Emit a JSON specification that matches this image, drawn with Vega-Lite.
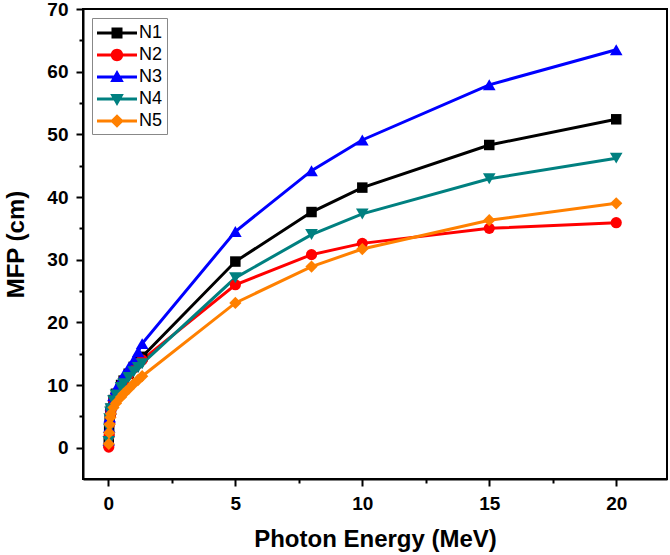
{
  "$schema": "https://vega.github.io/schema/vega-lite/v6.json",
  "width": 584,
  "height": 470,
  "autosize": {"type": "none"},
  "padding": {"left": 83, "top": 9, "right": 3, "bottom": 76},
  "background": "white",
  "config": {
    "font": "Liberation Sans",
    "view": {"stroke": "black", "strokeWidth": 2}
  },
  "data": {
    "values": [
      {"s": "N1", "e": 0.015, "m": 0.8}, {"s": "N1", "e": 0.03, "m": 2.8}, {"s": "N1", "e": 0.05, "m": 4.4}, {"s": "N1", "e": 0.08, "m": 5.6}, {"s": "N1", "e": 0.1, "m": 6.2}, {"s": "N1", "e": 0.2, "m": 7.6}, {"s": "N1", "e": 0.3, "m": 8.6}, {"s": "N1", "e": 0.5, "m": 10.0}, {"s": "N1", "e": 0.6, "m": 10.7}, {"s": "N1", "e": 0.8, "m": 11.8}, {"s": "N1", "e": 1, "m": 12.9}, {"s": "N1", "e": 1.17, "m": 13.7}, {"s": "N1", "e": 1.33, "m": 14.5}, {"s": "N1", "e": 5, "m": 29.7}, {"s": "N1", "e": 8, "m": 37.6}, {"s": "N1", "e": 10, "m": 41.5}, {"s": "N1", "e": 15, "m": 48.3}, {"s": "N1", "e": 20, "m": 52.4},
      {"s": "N2", "e": 0.015, "m": 0.1}, {"s": "N2", "e": 0.03, "m": 1.9}, {"s": "N2", "e": 0.05, "m": 3.8}, {"s": "N2", "e": 0.08, "m": 5.3}, {"s": "N2", "e": 0.1, "m": 6.0}, {"s": "N2", "e": 0.2, "m": 7.6}, {"s": "N2", "e": 0.3, "m": 8.6}, {"s": "N2", "e": 0.5, "m": 10.0}, {"s": "N2", "e": 0.6, "m": 10.7}, {"s": "N2", "e": 0.8, "m": 11.7}, {"s": "N2", "e": 1, "m": 12.7}, {"s": "N2", "e": 1.17, "m": 13.4}, {"s": "N2", "e": 1.33, "m": 14.0}, {"s": "N2", "e": 5, "m": 26.0}, {"s": "N2", "e": 8, "m": 30.8}, {"s": "N2", "e": 10, "m": 32.6}, {"s": "N2", "e": 15, "m": 35.0}, {"s": "N2", "e": 20, "m": 35.9},
      {"s": "N3", "e": 0.015, "m": 1.2}, {"s": "N3", "e": 0.03, "m": 3.2}, {"s": "N3", "e": 0.05, "m": 4.9}, {"s": "N3", "e": 0.08, "m": 6.1}, {"s": "N3", "e": 0.1, "m": 6.8}, {"s": "N3", "e": 0.2, "m": 8.3}, {"s": "N3", "e": 0.3, "m": 9.4}, {"s": "N3", "e": 0.5, "m": 10.8}, {"s": "N3", "e": 0.6, "m": 11.6}, {"s": "N3", "e": 0.8, "m": 12.8}, {"s": "N3", "e": 1, "m": 14.0}, {"s": "N3", "e": 1.17, "m": 15.3}, {"s": "N3", "e": 1.33, "m": 16.6}, {"s": "N3", "e": 5, "m": 34.5}, {"s": "N3", "e": 8, "m": 44.2}, {"s": "N3", "e": 10, "m": 49.1}, {"s": "N3", "e": 15, "m": 57.9}, {"s": "N3", "e": 20, "m": 63.5},
      {"s": "N4", "e": 0.015, "m": 1.0}, {"s": "N4", "e": 0.03, "m": 3.0}, {"s": "N4", "e": 0.05, "m": 4.6}, {"s": "N4", "e": 0.08, "m": 5.7}, {"s": "N4", "e": 0.1, "m": 6.2}, {"s": "N4", "e": 0.2, "m": 7.5}, {"s": "N4", "e": 0.3, "m": 8.4}, {"s": "N4", "e": 0.5, "m": 9.6}, {"s": "N4", "e": 0.6, "m": 10.2}, {"s": "N4", "e": 0.8, "m": 11.2}, {"s": "N4", "e": 1, "m": 12.1}, {"s": "N4", "e": 1.17, "m": 12.8}, {"s": "N4", "e": 1.33, "m": 13.4}, {"s": "N4", "e": 5, "m": 27.1}, {"s": "N4", "e": 8, "m": 34.0}, {"s": "N4", "e": 10, "m": 37.3}, {"s": "N4", "e": 15, "m": 42.9}, {"s": "N4", "e": 20, "m": 46.2},
      {"s": "N5", "e": 0.015, "m": 0.6}, {"s": "N5", "e": 0.03, "m": 2.4}, {"s": "N5", "e": 0.05, "m": 3.7}, {"s": "N5", "e": 0.08, "m": 4.8}, {"s": "N5", "e": 0.1, "m": 5.4}, {"s": "N5", "e": 0.2, "m": 6.4}, {"s": "N5", "e": 0.3, "m": 7.1}, {"s": "N5", "e": 0.5, "m": 8.1}, {"s": "N5", "e": 0.6, "m": 8.6}, {"s": "N5", "e": 0.8, "m": 9.4}, {"s": "N5", "e": 1, "m": 10.2}, {"s": "N5", "e": 1.17, "m": 10.8}, {"s": "N5", "e": 1.33, "m": 11.4}, {"s": "N5", "e": 5, "m": 23.1}, {"s": "N5", "e": 8, "m": 28.9}, {"s": "N5", "e": 10, "m": 31.7}, {"s": "N5", "e": 15, "m": 36.3}, {"s": "N5", "e": 20, "m": 39.0}
    ]
  },
  "encoding": {
    "x": {
      "field": "e", "type": "quantitative",
      "scale": {"domain": [-1, 22], "nice": false, "zero": false},
      "axis": {
        "title": "Photon Energy (MeV)",
        "values": [0, 2.5, 5, 7.5, 10, 12.5, 15, 17.5, 20],
        "labelExpr": "datum.value % 5 === 0 ? datum.label : ''",
        "grid": false,
        "domainColor": "black", "domainWidth": 2,
        "tickColor": "black", "tickWidth": 2,
        "tickSize": {"condition": {"test": "datum.value % 5 === 0", "value": 7}, "value": 4},
        "labelFontSize": 19, "labelFontWeight": "bold", "labelColor": "black", "labelPadding": 8,
        "titleFontSize": 24, "titleFontWeight": "bold", "titleColor": "black", "titlePadding": 14
      }
    },
    "y": {
      "field": "m", "type": "quantitative",
      "scale": {"domain": [-5, 70], "nice": false, "zero": false},
      "axis": {
        "title": "MFP (cm)",
        "values": [0, 5, 10, 15, 20, 25, 30, 35, 40, 45, 50, 55, 60, 65, 70],
        "labelExpr": "datum.value % 10 === 0 ? datum.label : ''",
        "grid": false,
        "domainColor": "black", "domainWidth": 2,
        "tickColor": "black", "tickWidth": 2,
        "tickSize": {"condition": {"test": "datum.value % 10 === 0", "value": 7}, "value": 4},
        "labelFontSize": 19, "labelFontWeight": "bold", "labelColor": "black", "labelPadding": 8,
        "titleFontSize": 24, "titleFontWeight": "bold", "titleColor": "black", "titlePadding": 18
      }
    },
    "color": {
      "field": "s", "type": "nominal",
      "scale": {"domain": ["N1", "N2", "N3", "N4", "N5"], "range": ["#000000", "#FF0000", "#0000FF", "#008080", "#FF8000"]},
      "legend": {
        "title": null, "orient": "top-left", "offset": 9,
        "strokeColor": "#888888", "padding": 4,
        "labelFontSize": 18, "labelColor": "black", "labelOffset": 11,
        "symbolSize": 400, "symbolOffset": 10, "rowPadding": 2
      }
    }
  },
  "layer": [
    {
      "mark": {"type": "line", "strokeWidth": 3},
      "encoding": {
        "color": null,
        "stroke": {"field": "s", "type": "nominal", "legend": null,
          "scale": {"range": ["#000000", "#FF0000", "#0000FF", "#008080", "#FF8000"]}},
        "order": {"field": "e", "type": "quantitative"}
      }
    },
    {
      "transform": [{"filter": "datum.s === 'N1'"}],
      "mark": {"type": "point", "filled": true, "size": 110, "opacity": 1, "shape": "square"}
    },
    {
      "transform": [{"filter": "datum.s === 'N2'"}],
      "mark": {"type": "point", "filled": true, "size": 125, "opacity": 1, "shape": "circle"}
    },
    {
      "transform": [{"filter": "datum.s === 'N3'"}],
      "mark": {"type": "point", "filled": true, "size": 160, "opacity": 1, "shape": "triangle-up"}
    },
    {
      "transform": [{"filter": "datum.s === 'N4'"}],
      "mark": {"type": "point", "filled": true, "size": 160, "opacity": 1, "shape": "triangle-down"}
    },
    {
      "transform": [{"filter": "datum.s === 'N5'"}],
      "mark": {"type": "point", "filled": true, "size": 150, "opacity": 1, "shape": "diamond"}
    },
    {
      "transform": [{"filter": "datum.e > 1000"}],
      "mark": {"type": "point", "filled": true, "opacity": 1},
      "encoding": {
        "shape": {
          "field": "s", "type": "nominal",
          "legend": {"title": null, "orient": "top-left", "offset": 9,
            "strokeColor": "#888888", "padding": 4,
            "labelFontSize": 18, "labelColor": "black", "labelOffset": 11,
            "symbolSize": 400, "symbolOffset": 10, "rowPadding": 2},
          "scale": {"domain": ["N1", "N2", "N3", "N4", "N5"], "range": [
            "M-2,-0.15H2V0.15H-2Z M-0.55,-0.55H0.55V0.55H-0.55Z",
            "M-2,-0.15H2V0.15H-2Z M0.62,0A0.62,0.62 0 1,1 -0.62,0A0.62,0.62 0 1,1 0.62,0Z",
            "M-2,-0.15H2V0.15H-2Z M0,-0.7L0.68,0.5L-0.68,0.5Z",
            "M-2,-0.15H2V0.15H-2Z M-0.68,-0.5L0.68,-0.5L0,0.7Z",
            "M-2,-0.15H2V0.15H-2Z M0,-0.68L0.68,0L0,0.68L-0.68,0Z"
          ]}
        }
      }
    }
  ]
}
